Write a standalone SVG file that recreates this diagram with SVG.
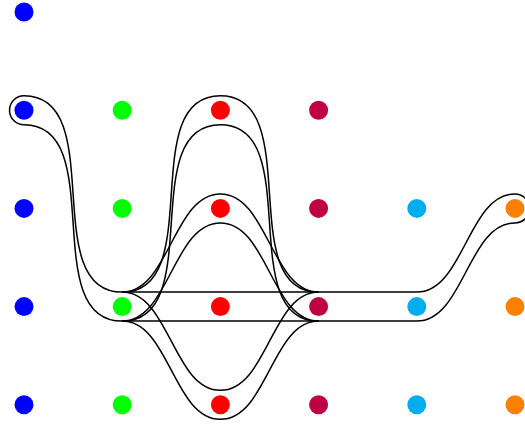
<svg xmlns="http://www.w3.org/2000/svg" width="525" height="426" viewBox="0 0 525 426">
<style>
.band{fill:none;stroke:#000;stroke-width:1.5}
.b{fill:#0000ff}.g{fill:#00ff00}.r{fill:#ff0000}.m{fill:#bf0041}.c{fill:#00aeef}.o{fill:#ff8000}
</style>
<rect width="525" height="426" fill="#fff"/>
<g id="connectors">
<path class="band" d="M24 95.7 C109 95.7 37.2 292.1 122.2 292.1 L416.8 292.1 C463.8 292.1 468 193.9 515 193.9 A14.5 14.5 0 0 1 515 222.9 C468 222.9 463.8 321.1 416.8 321.1 L122.2 321.1 C37.2 321.1 109 124.7 24 124.7 A14.5 14.5 0 0 1 24 95.7 Z"/>
<path class="band" d="M122.2 292.1 C207.2 292.1 135.4 95.7 220.4 95.7 C305.4 95.7 233.6 292.1 318.6 292.1 M122.2 321.1 C207.2 321.1 135.4 124.7 220.4 124.7 C305.4 124.7 233.6 321.1 318.6 321.1"/>
<path class="band" d="M122.2 292.1 C169.2 292.1 173.4 193.9 220.4 193.9 C267.4 193.9 271.6 292.1 318.6 292.1 M122.2 321.1 C169.2 321.1 173.4 222.9 220.4 222.9 C267.4 222.9 271.6 321.1 318.6 321.1"/>
<path class="band" d="M122.2 292.1 C169.2 292.1 173.4 390.3 220.4 390.3 C267.4 390.3 271.6 292.1 318.6 292.1 M122.2 321.1 C169.2 321.1 173.4 419.3 220.4 419.3 C267.4 419.3 271.6 321.1 318.6 321.1"/>
</g>
<g id="n-0-0"><circle class="b" cx="24" cy="12" r="9.5"/></g>
<g id="n-0-1"><circle class="b" cx="24" cy="110.2" r="9.5"/></g>
<g id="n-1-1"><circle class="g" cx="122.2" cy="110.2" r="9.5"/></g>
<g id="n-2-1"><circle class="r" cx="220.4" cy="110.2" r="9.5"/></g>
<g id="n-3-1"><circle class="m" cx="318.6" cy="110.2" r="9.5"/></g>
<g id="n-0-2"><circle class="b" cx="24" cy="208.4" r="9.5"/></g>
<g id="n-1-2"><circle class="g" cx="122.2" cy="208.4" r="9.5"/></g>
<g id="n-2-2"><circle class="r" cx="220.4" cy="208.4" r="9.5"/></g>
<g id="n-3-2"><circle class="m" cx="318.6" cy="208.4" r="9.5"/></g>
<g id="n-4-2"><circle class="c" cx="416.8" cy="208.4" r="9.5"/></g>
<g id="n-5-2"><circle class="o" cx="515" cy="208.4" r="9.5"/></g>
<g id="n-0-3"><circle class="b" cx="24" cy="306.6" r="9.5"/></g>
<g id="n-1-3"><circle class="g" cx="122.2" cy="306.6" r="9.5"/></g>
<g id="n-2-3"><circle class="r" cx="220.4" cy="306.6" r="9.5"/></g>
<g id="n-3-3"><circle class="m" cx="318.6" cy="306.6" r="9.5"/></g>
<g id="n-4-3"><circle class="c" cx="416.8" cy="306.6" r="9.5"/></g>
<g id="n-5-3"><circle class="o" cx="515" cy="306.6" r="9.5"/></g>
<g id="n-0-4"><circle class="b" cx="24" cy="404.8" r="9.5"/></g>
<g id="n-1-4"><circle class="g" cx="122.2" cy="404.8" r="9.5"/></g>
<g id="n-2-4"><circle class="r" cx="220.4" cy="404.8" r="9.5"/></g>
<g id="n-3-4"><circle class="m" cx="318.6" cy="404.8" r="9.5"/></g>
<g id="n-4-4"><circle class="c" cx="416.8" cy="404.8" r="9.5"/></g>
<g id="n-5-4"><circle class="o" cx="515" cy="404.8" r="9.5"/></g>
</svg>
